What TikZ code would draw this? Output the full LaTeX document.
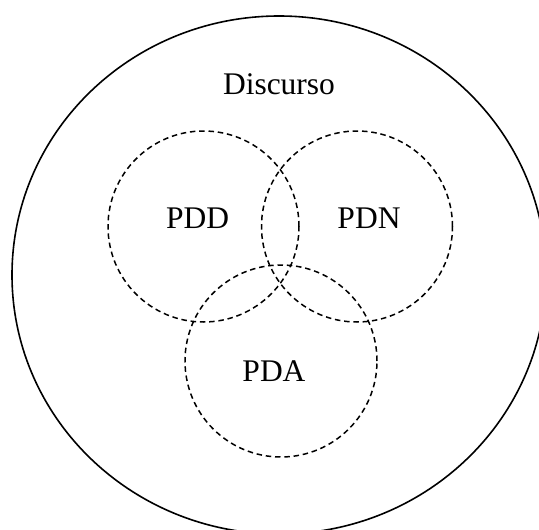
\documentclass[tikz,border=0pt]{standalone}
\usepackage{fontspec}
\setmainfont{Liberation Serif}
\begin{document}
\begin{tikzpicture}[x=1pt,y=-1pt,
  outer/.style={draw=black,line width=1.6pt},
  area/.style={draw=black,line width=1.5pt,dash pattern=on 5.5pt off 3.8pt,circle,minimum size=191pt,inner sep=0pt},
  lbl/.style={anchor=base,inner sep=0pt,font=\fontsize{31.5}{36}\selectfont}]
  \useasboundingbox (0,0) rectangle (539,530);
  \begin{scope}
    \clip (0,0) rectangle (539,530);
    % universe of discourse
    \draw[outer] (279,275) ellipse [x radius=267, y radius=259];
  \end{scope}
  % the three dashed regions
  \node[area] (pdd) at (203.5,226.5) {};
  \node[area] (pdn) at (357,226.5) {};
  \node[area,minimum size=192pt] (pda) at (281,361) {};
  % labels
  \node[lbl] (disc) at (279,94) {Discurso};
  \node[lbl] (tpdd) at (197.6,228.3) {PDD};
  \node[lbl] (tpdn) at (369,228.3) {PDN};
  \node[lbl] (tpda) at (274,381) {PDA};
\end{tikzpicture}
\end{document}
